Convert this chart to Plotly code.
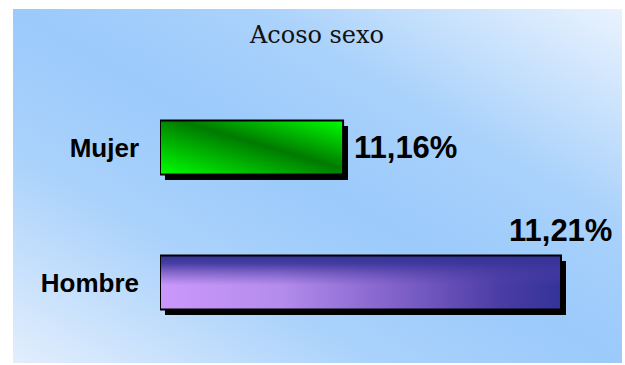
import base64
import plotly.graph_objects as go

# ---- data ----
title_text = "Acoso sexo"
categories = ["Hombre", "Mujer"]
values = [11.21, 11.16]
axis_min = 11.118

# ---- layout constants ----
W, H = 625, 365
ML, MR, MT, MB = 160, 5, 80, 15
PX_PER_UNIT = 4359.0
x_max = axis_min + (W - ML - MR) / PX_PER_UNIT
y_range = [-0.5, len(categories) - 0.5]
BAR_W = 0.4
py_per_unit = (H - MT - MB) / (y_range[1] - y_range[0])
shadow_dx = 5.0 / PX_PER_UNIT
shadow_dy = 5.5 / py_per_unit


def svg_uri(body):
    svg = ('<svg xmlns="http://www.w3.org/2000/svg" width="100" height="100" '
           'viewBox="0 0 100 100" preserveAspectRatio="none">' + body + '</svg>')
    return "data:image/svg+xml;base64," + base64.b64encode(svg.encode()).decode()


bg_svg = svg_uri(
    '<defs><linearGradient id="g" x1="0" y1="1" x2="1" y2="0">'
    '<stop offset="0" stop-color="#E2EEFD"/>'
    '<stop offset="0.3" stop-color="#AAD2FB"/>'
    '<stop offset="0.5" stop-color="#9BCAFB"/>'
    '<stop offset="0.7" stop-color="#AAD2FB"/>'
    '<stop offset="1" stop-color="#EAF3FE"/>'
    '</linearGradient></defs>'
    '<rect width="100" height="100" fill="url(#g)"/>')

green_svg = svg_uri(
    '<defs><linearGradient id="g" x1="0" y1="1" x2="1" y2="0">'
    '<stop offset="0" stop-color="#00FF00"/>'
    '<stop offset="0.55" stop-color="#007A00"/>'
    '<stop offset="1" stop-color="#00FF00"/>'
    '</linearGradient></defs>'
    '<rect width="100" height="100" fill="url(#g)"/>')

purple_svg = svg_uri(
    '<defs>'
    '<linearGradient id="h" x1="0" y1="0" x2="1" y2="0">'
    '<stop offset="0" stop-color="#CA98FB"/>'
    '<stop offset="0.3" stop-color="#B48CEC"/>'
    '<stop offset="0.6" stop-color="#7E60C8"/>'
    '<stop offset="0.85" stop-color="#4A3CA4"/>'
    '<stop offset="1" stop-color="#333399"/>'
    '</linearGradient>'
    '<linearGradient id="v" x1="0" y1="0" x2="0" y2="1">'
    '<stop offset="0" stop-color="#333399" stop-opacity="1"/>'
    '<stop offset="0.15" stop-color="#3A3599" stop-opacity="0.9"/>'
    '<stop offset="0.55" stop-color="#5A44B0" stop-opacity="0"/>'
    '</linearGradient></defs>'
    '<rect width="100" height="100" fill="url(#h)"/>'
    '<rect width="100" height="100" fill="url(#v)"/>')

fills = {"Hombre": purple_svg, "Mujer": green_svg}
black_svg = svg_uri('<rect width="100" height="100" fill="#000"/>')

ypos = list(range(len(categories)))

fig = go.Figure()
fig.add_trace(go.Bar(
    y=ypos, x=[v - axis_min for v in values], base=axis_min,
    orientation="h", width=BAR_W,
    marker=dict(color="rgba(0,0,0,0)", line=dict(color="#000", width=2)),
    cliponaxis=False, hoverinfo="skip", showlegend=False,
))

plot_w = W - ML - MR
plot_h = H - MT - MB
def px2paper_x(px):
    return (px - ML) / plot_w
def py2paper_y(py):
    return (H - MB - py) / plot_h

images = [dict(source=bg_svg, xref="paper", yref="paper",
               x=px2paper_x(13), y=py2paper_y(9),
               sizex=px2paper_x(622) - px2paper_x(13),
               sizey=py2paper_y(9) - py2paper_y(363),
               xanchor="left", yanchor="top", sizing="stretch", layer="below")]
for i, (c, v) in enumerate(zip(categories, values)):
    images.append(dict(source=black_svg, xref="x", yref="y",
                       x=axis_min + shadow_dx, y=i + BAR_W / 2 - shadow_dy,
                       sizex=v - axis_min, sizey=BAR_W,
                       xanchor="left", yanchor="top", sizing="stretch", layer="below"))
for i, (c, v) in enumerate(zip(categories, values)):
    images.append(dict(source=fills[c], xref="x", yref="y",
                       x=axis_min, y=i + BAR_W / 2,
                       sizex=v - axis_min, sizey=BAR_W,
                       xanchor="left", yanchor="top", sizing="stretch", layer="below"))

label_font = dict(family="Liberation Sans, Arial, sans-serif", size=31, color="#000", weight="bold")
annotations = []
for i, (c, v) in enumerate(zip(categories, values)):
    txt = f"{v:.2f}".replace(".", ",") + "%"
    if c == "Mujer":
        annotations.append(dict(x=v, y=i, xref="x", yref="y", text=txt, showarrow=False,
                                xanchor="left", yanchor="middle", xshift=9, font=label_font))
    else:
        annotations.append(dict(x=v, y=i + BAR_W / 2, xref="x", yref="y", text=txt, showarrow=False,
                                xanchor="right", yanchor="middle", xshift=53, yshift=25, font=label_font))

fig.update_layout(
    width=W, height=H,
    margin=dict(l=ML, r=MR, t=MT, b=MB),
    paper_bgcolor="#FFFFFF", plot_bgcolor="rgba(0,0,0,0)",
    images=images, annotations=annotations,
    title=dict(text=title_text, x=317 / W, xref="container", xanchor="center",
               y=1 - 35 / H, yref="container", yanchor="middle",
               font=dict(family="DejaVu Serif", size=24, color="#111")),
    xaxis=dict(range=[axis_min, x_max], showgrid=False, zeroline=False,
               showticklabels=False, showline=False, fixedrange=True),
    yaxis=dict(range=y_range, tickvals=ypos, ticktext=categories,
               showgrid=False, zeroline=False, showline=False, ticks="",
               ticklabelstandoff=20,
               tickfont=dict(family="Liberation Sans, Arial, sans-serif", size=26,
                             color="#000", weight="bold"),
               fixedrange=True),
)

fig.write_html("out.html", config={"displayModeBar": False},
               post_script="document.body.style.margin='0';document.body.style.overflow='hidden';")
